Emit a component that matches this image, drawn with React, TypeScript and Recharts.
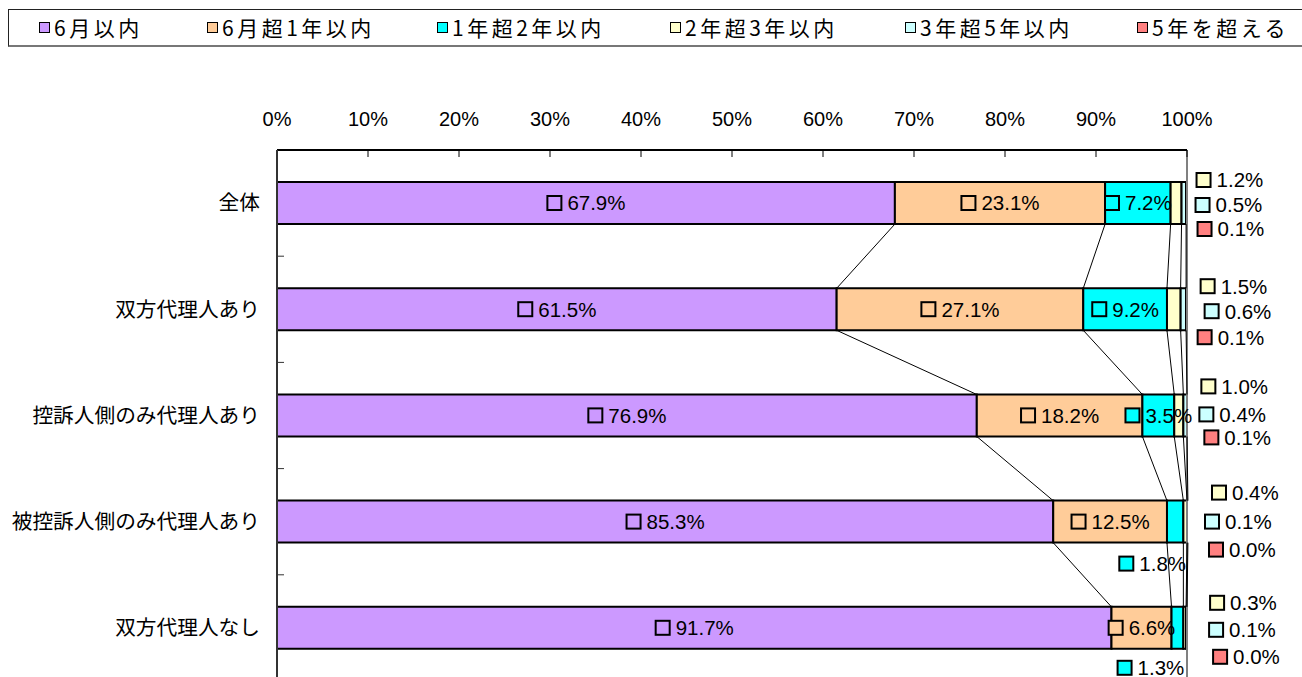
import React from 'react';
import { BarChart, Bar, XAxis, YAxis, Legend, LabelList, ReferenceLine } from 'recharts';

// ---- data ----
const categories = ['全体', '双方代理人あり', '控訴人側のみ代理人あり', '被控訴人側のみ代理人あり', '双方代理人なし'];
const within6Months = [67.9, 61.5, 76.9, 85.3, 91.7];
const months6To1Year = [23.1, 27.1, 18.2, 12.5, 6.6];
const years1To2 = [7.2, 9.2, 3.5, 1.8, 1.3];
const years2To3 = [1.2, 1.5, 1.0, 0.4, 0.3];
const years3To5 = [0.5, 0.6, 0.4, 0.1, 0.1];
const over5Years = [0.1, 0.1, 0.1, 0.0, 0.0];
const seriesNames = ['6月以内', '6月超1年以内', '1年超2年以内', '2年超3年以内', '3年超5年以内', '5年を超える'];
const xTicks = [0, 10, 20, 30, 40, 50, 60, 70, 80, 90, 100];

// ---- styles ----
const COLORS = ['#CC99FF', '#FFCC99', '#00FFFF', '#FFFFCC', '#CCFFFF', '#FF8080'];
const NUM_FONT = '"Liberation Sans", Arial, sans-serif';
const JP_FONT = '"Noto Sans CJK JP", "Noto Sans CJK SC", sans-serif';
const LABEL_FS = 20.5;
const BAR_SIZE = 42;
// offsets (px) of the three small side labels, relative to the end of the 2-3 year segment / bar centre
const SIDE_DX = [[14, 13, 15], [19, 23, 16], [17, 15, 20], [24, 17, 21], [23, 22, 26]];
const SIDE_DY = [[-23, 2, 26], [-23, 2, 28], [-29, -1, 22], [-29, 0, 28], [-25, 2, 29]];
// offsets of the cyan labels that sit below the bar (row -> [dx from segment centre, dy from bar bottom])
const BELOW: Record<number, [number, number]> = { 3: [-23, 21], 4: [-27, 19] };
const LEGEND_X = [30, 198, 428, 661, 896, 1128];

const seriesValues = [within6Months, months6To1Year, years1To2, years2To3, years3To5, over5Years];
const seriesKeys = seriesValues.map((_, j) => `s${j}`);

const data = categories.map((name, i) => {
  const row: Record<string, any> = { name };
  seriesKeys.forEach((k, j) => { row[k] = seriesValues[j][i]; });
  return row;
});

const cumulative = categories.map((_, i) => {
  let acc = 0;
  return seriesValues.map((vals) => { acc = Math.round((acc + vals[i]) * 10) / 10; return acc; });
});

const charW = (c: string) => (/[0-9]/.test(c) ? 0.556 : c === '.' ? 0.278 : c === '%' ? 0.889 : 0.5);
const textWidth = (s: string, fs: number) => [...s].reduce((a, c) => a + charW(c), 0) * fs;
const fmt = (v: number) => v.toFixed(1) + '%';

function Chip({ left, cy, color, text }: { left: number; cy: number; color: string; text: string }) {
  return (
    <g>
      <rect x={left + 1} y={cy - 7} width={14} height={14} fill={color} stroke="#000" strokeWidth={2} />
      <text x={left + 21} y={cy} dy="0.36em" fontSize={LABEL_FS} fontFamily={NUM_FONT} fill="#000">{text}</text>
    </g>
  );
}

const makeLabel = (j: number) => (p: any) => {
  const i = p.index;
  const x = Number(p.x), y = Number(p.y), w = Number(p.width), h = Number(p.height);
  if (!isFinite(x) || i == null) return null;
  if (j > 3) return null;
  if (j === 3) {
    // the three thin segments (2-3y, 3-5y, >5y) get stacked labels beside the bar
    return (
      <g>
        {[3, 4, 5].map((s, n) => (
          <Chip key={s} left={x + w + SIDE_DX[i][n]} cy={y + h / 2 + SIDE_DY[i][n]} color={COLORS[s]} text={fmt(seriesValues[s][i])} />
        ))}
      </g>
    );
  }
  const text = fmt(seriesValues[j][i]);
  const total = 21 + textWidth(text, LABEL_FS);
  if (j === 2 && BELOW[i]) {
    const [dx, dy] = BELOW[i];
    return <Chip left={x + w / 2 + dx - total / 2} cy={y + h + dy} color={COLORS[j]} text={text} />;
  }
  return <Chip left={x + w / 2 - total / 2} cy={y + h / 2} color={COLORS[j]} text={text} />;
};

const seriesLineShape = (p: any) => (
  <line x1={p.x1} y1={p.y1 + BAR_SIZE / 2} x2={p.x2} y2={p.y2 - BAR_SIZE / 2} stroke="#000" strokeWidth={1} />
);

// small tick on the category axis at the boundary between two neighbouring categories
const boundaryTickShape = (p: any) => {
  const yb = (p.y1 + p.y2) / 2;
  return <line x1={p.x1} y1={yb} x2={p.x1 + 7} y2={yb} stroke="#333" strokeWidth={1} />;
};

const LegendBox = () => (
  <div style={{ position: 'relative', width: 1320, height: 35, border: '1px solid #222', borderBottom: '2px solid #777', background: '#fff', boxSizing: 'content-box' }}>
    {seriesNames.map((n, j) => (
      <div key={n} style={{ position: 'absolute', left: LEGEND_X[j], top: 0, height: 35, display: 'flex', alignItems: 'center', whiteSpace: 'nowrap' }}>
        <span style={{ display: 'inline-block', width: 9, height: 9, background: COLORS[j], border: '1.5px solid #000', marginRight: 4 }} />
        <span style={{ fontFamily: JP_FONT, fontSize: 21, letterSpacing: 3.5, color: '#000', lineHeight: '35px' }}>{n}</span>
      </div>
    ))}
  </div>
);

export default function App() {
  const seriesLines: React.ReactNode[] = [];
  for (let j = 0; j < 5; j++) {
    for (let i = 0; i < categories.length - 1; i++) {
      seriesLines.push(
        <ReferenceLine
          key={`sl-${j}-${i}`}
          yAxisId="cat"
          ifOverflow="visible"
          segment={[{ x: cumulative[i][j], y: categories[i] }, { x: cumulative[i + 1][j], y: categories[i + 1] }]}
          shape={seriesLineShape}
        />
      );
    }
  }
  const boundaryTicks = categories.slice(0, -1).map((c, i) => (
    <ReferenceLine
      key={`bt-${i}`}
      yAxisId="cat"
      ifOverflow="visible"
      segment={[{ x: 0, y: c }, { x: 0, y: categories[i + 1] }]}
      shape={boundaryTickShape}
    />
  ));
  return (
    <div style={{ position: 'fixed', left: 8, top: 8, width: 1294, height: 669, overflow: 'hidden', background: '#fff' }}>
      <BarChart
        width={1294}
        height={700}
        layout="vertical"
        data={data}
        margin={{ top: 0, right: 115, left: 0, bottom: 27 }}
        barSize={BAR_SIZE}
      >
        <XAxis
          type="number"
          orientation="top"
          domain={[0, 100]}
          allowDataOverflow
          ticks={xTicks}
          interval={0}
          height={142}
          tickSize={-7}
          tickMargin={31}
          tickFormatter={(v: number) => `${v}%`}
          axisLine={{ stroke: '#000', strokeWidth: 2 }}
          tickLine={{ stroke: '#000', strokeWidth: 1 }}
          tick={{ fill: '#000', fontSize: 20, fontFamily: NUM_FONT }}
        />
        <YAxis
          yAxisId="cat"
          type="category"
          dataKey="name"
          width={269}
          tickLine={false}
          tickSize={0}
          tickMargin={17}
          interval={0}
          axisLine={{ stroke: '#333', strokeWidth: 2 }}
          tick={{ fill: '#000', fontSize: 20.7, fontFamily: JP_FONT }}
        />
        <Legend
          layout="vertical"
          align="center"
          verticalAlign="middle"
          wrapperStyle={{ top: 1, left: 0, width: 1330, height: 38 }}
          content={() => <LegendBox />}
        />
        <ReferenceLine yAxisId="cat" x={100} stroke="#808080" strokeWidth={2} ifOverflow="visible" />
        {boundaryTicks}
        {seriesLines}
        {seriesKeys.map((k, j) => (
          <Bar
            key={k}
            yAxisId="cat"
            dataKey={k}
            name={seriesNames[j]}
            stackId="a"
            fill={COLORS[j]}
            stroke="#000"
            strokeWidth={2}
            isAnimationActive={false}
          >
            <LabelList dataKey={k} content={makeLabel(j)} />
          </Bar>
        ))}
      </BarChart>
    </div>
  );
}
